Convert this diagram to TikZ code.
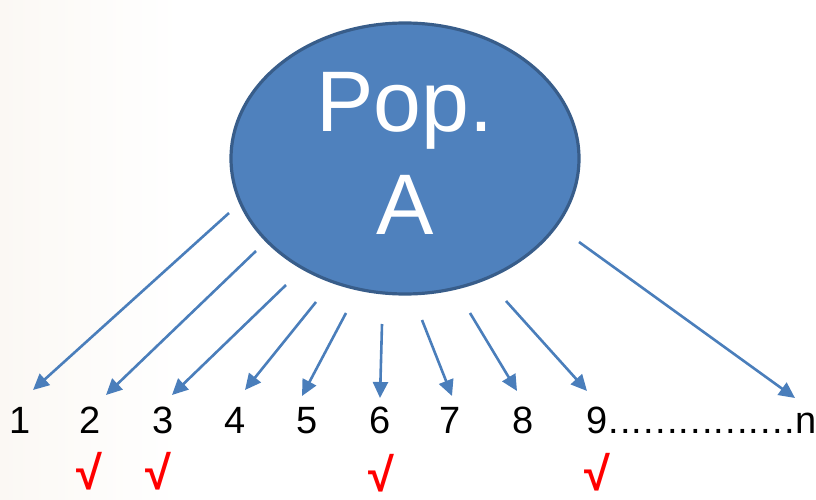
\documentclass[tikz,border=0pt]{standalone}
\usepackage{fontspec}
\setmainfont{Liberation Sans}
\usetikzlibrary{arrows.meta,shapes.geometric}
\definecolor{popfill}{HTML}{4F81BD}
\definecolor{popedge}{HTML}{385D8A}
\definecolor{arrblue}{HTML}{4A7EBB}
\definecolor{tickred}{HTML}{FF0000}
\definecolor{paper}{HTML}{FBF8F4}
\tikzset{
  pop/.style={ellipse,draw=popedge,fill=popfill,line width=3.2pt,minimum width=348pt,minimum height=271pt,inner sep=0pt,text=white,align=center,text depth=11pt,font=\fontsize{86}{103}\selectfont},
  num/.style={font=\fontsize{38}{40}\selectfont,inner sep=0pt,anchor=base},
  tick/.style={text=tickred,font=\fontsize{47}{50}\selectfont\bfseries,inner sep=0pt},
  arr/.style={-{Triangle[length=16pt,width=15pt]},line width=2.6pt,draw=arrblue},
}
\begin{document}
\begin{tikzpicture}[x=1pt,y=-1pt]
  \useasboundingbox (0,0) rectangle (816,500);
  \shade[left color=paper,right color=white] (0,0) rectangle (180,500);
  \node[pop] (popA) at (405,158.5) {Pop.\\A};
  % sample units
  \node[num] (n1) at (20,433) {1};
  \node[num] (n2) at (90,433) {2};
  \node[num] (n3) at (163,433) {3};
  \node[num] (n4) at (235,433) {4};
  \node[num] (n5) at (307,433) {5};
  \node[num] (n6) at (380,433) {6};
  \node[num] (n7) at (450,433) {7};
  \node[num] (n8) at (523,433) {8};
  \node[num] (n9) at (597,433) {9};
  \node[num,anchor=base west] (dots) at (n9.base east) {\foreach \k in {1,...,16}{\makebox[11.7pt]{.}}};
  \node[num,anchor=base west] (nn) at (dots.base east) {n};
  % picked ones
  \node[tick] (c2) at (89,471) {√};
  \node[tick] (c3) at (158,471) {√};
  \node[tick] (c6) at (381,473) {√};
  \node[tick] (c9) at (597,472) {√};
  % draws
  \coordinate (s1) at (229,213); \coordinate (t1) at (33,390);
  \coordinate (s2) at (256,251); \coordinate (t2) at (106,395);
  \coordinate (s3) at (286,285); \coordinate (t3) at (172,395);
  \coordinate (s4) at (316,302); \coordinate (t4) at (245,390);
  \coordinate (s5) at (346,313); \coordinate (t5) at (302,396);
  \coordinate (s6) at (382,324); \coordinate (t6) at (380,398);
  \coordinate (s7) at (422,320); \coordinate (t7) at (452,396);
  \coordinate (s8) at (470,313); \coordinate (t8) at (517,391);
  \coordinate (s9) at (506,301); \coordinate (t9) at (587,391);
  \coordinate (sn) at (579,242); \coordinate (tn) at (795,398);
  \draw[arr](s1)--(t1); \draw[arr](s2)--(t2); \draw[arr](s3)--(t3);
  \draw[arr](s4)--(t4); \draw[arr](s5)--(t5); \draw[arr](s6)--(t6);
  \draw[arr](s7)--(t7); \draw[arr](s8)--(t8); \draw[arr](s9)--(t9);
  \draw[arr](sn)--(tn);
\end{tikzpicture}
\end{document}
